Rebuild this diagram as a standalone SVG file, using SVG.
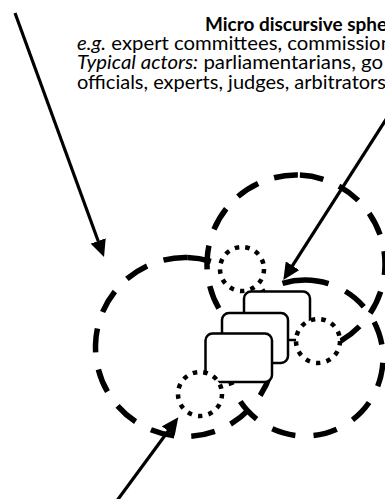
<svg xmlns="http://www.w3.org/2000/svg" width="385" height="499" viewBox="0 0 385 499">
<defs>
<style>
.sphere{fill:none;stroke:#000;stroke-width:5.5;}
.actor{fill:#fff;stroke:#000;stroke-width:4.5;stroke-dasharray:4.5 6.13;}
.doc{fill:#fff;stroke:#000;stroke-width:2.5;}
.arrow{fill:none;stroke:#000;stroke-width:3.2;marker-end:url(#ah);}
.t{font-family:Lato,'Liberation Sans',sans-serif;font-size:19px;fill:#000;}
</style>
<marker id="ah" markerUnits="userSpaceOnUse" markerWidth="18" markerHeight="16" refX="5" refY="8" orient="auto" viewBox="0 0 18 16">
<path d="M0,0 L17,8 L0,16 z" fill="#000"/>
</marker>
</defs>
<rect width="385" height="499" fill="#fff"/>
<g id="sphere-left"><circle class="sphere" cx="185" cy="347" r="89.5" transform="rotate(-88.5 185 347)" stroke-dasharray="24 17.33"/></g>
<g id="sphere-upper-right"><circle class="sphere" cx="296" cy="264" r="89" transform="rotate(-87.5 296 264)" stroke-dasharray="24 16.94"/></g>
<g id="sphere-lower-right"><circle class="sphere" cx="305" cy="358" r="78" transform="rotate(-90 305 358)" stroke-dasharray="24 18.4"/></g>
<g id="doc-back"><rect class="doc" x="244" y="291.5" width="66" height="48.5" rx="7"/></g>
<g id="doc-middle"><rect class="doc" x="222" y="313" width="66" height="50" rx="7"/></g>
<g id="doc-front"><rect class="doc" x="205.5" y="333.5" width="66.5" height="48.5" rx="7"/></g>
<g id="actor-top"><circle class="actor" cx="242" cy="269" r="22"/></g>
<g id="actor-right"><circle class="actor" cx="318" cy="341" r="22"/></g>
<g id="actor-bottom"><circle class="actor" cx="200" cy="394" r="22"/></g>
<g id="label-micro">
<text class="t" x="205" y="30.5" font-weight="bold" textLength="182" lengthAdjust="spacingAndGlyphs">Micro discursive sphe</text>
<text class="t" x="77" y="49.5" textLength="315" lengthAdjust="spacingAndGlyphs"><tspan font-style="italic">e.g.</tspan> expert committees, commission</text>
<text class="t" x="77" y="69" textLength="306" lengthAdjust="spacingAndGlyphs"><tspan font-style="italic">Typical actors:</tspan> parliamentarians, go</text>
<text class="t" x="77" y="88.5" textLength="309" lengthAdjust="spacingAndGlyphs">officials, experts, judges, arbitrators</text>
</g>
<g id="connectors">
<line class="arrow" x1="15" y1="13" x2="99.9" y2="245.7"/>
<line class="arrow" x1="392" y1="110" x2="289.8" y2="269.9"/>
<line class="arrow" x1="116" y1="502" x2="171.2" y2="427"/>
</g>
</svg>
